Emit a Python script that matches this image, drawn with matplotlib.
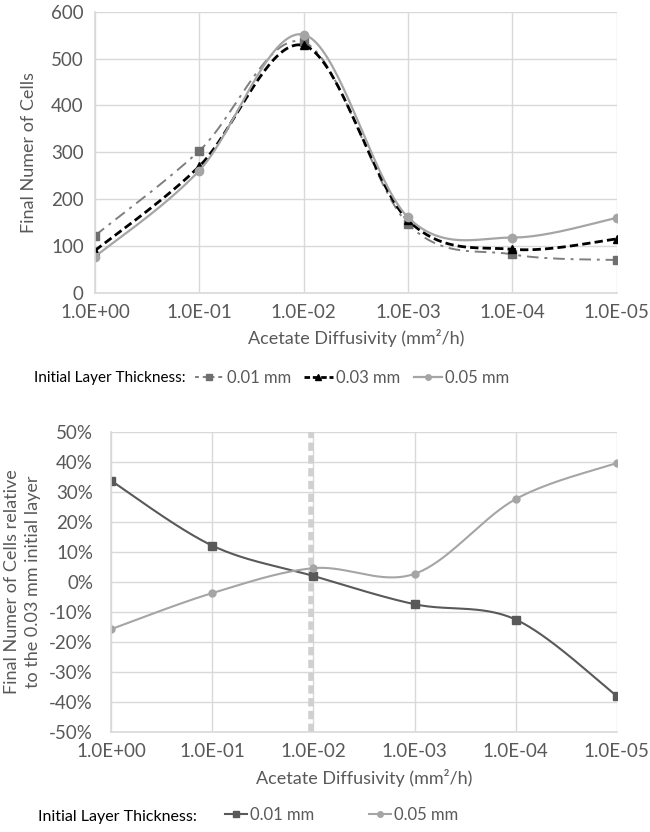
import numpy as np
import matplotlib
matplotlib.use("Agg")
import matplotlib.pyplot as plt
from matplotlib.lines import Line2D
from matplotlib.ticker import FuncFormatter

plt.rcParams['font.family'] = ['Lato', 'DejaVu Sans']

# data
diffusivity = ['1.0E+00', '1.0E-01', '1.0E-02', '1.0E-03', '1.0E-04', '1.0E-05']
cells_001 = [122, 303, 535, 147, 82, 70]
cells_003 = [90, 270, 528, 155, 93, 115]
cells_005 = [77, 261, 551, 161, 118, 160]
rel_001 = [33.7, 12.1, 2.0, -7.4, -12.5, -38.0]
rel_005 = [-15.7, -3.7, 4.6, 2.7, 27.6, 39.6]
x_marker = 1.98  # dashed reference line (1.0E-02)

GRID = '#d9d9d9'
TXT = '#595959'


def smooth(y, n=40):
    # excel-like smoothed line (cardinal bezier through the points)
    y = np.asarray(y, float)
    x = np.arange(len(y), dtype=float)
    P = np.column_stack([x, y])
    xs, ys = [], []
    t = np.linspace(0, 1, n)
    for i in range(len(P) - 1):
        p0 = P[i - 1] if i > 0 else P[i]
        p3 = P[i + 2] if i + 2 < len(P) else P[i + 1]
        c1 = P[i] + (P[i + 1] - p0) / 6
        c2 = P[i + 1] - (p3 - P[i]) / 6
        b = ((1 - t) ** 3)[:, None] * P[i] + (3 * (1 - t) ** 2 * t)[:, None] * c1 \
            + (3 * (1 - t) * t ** 2)[:, None] * c2 + (t ** 3)[:, None] * P[i + 1]
        xs.append(b[:, 0])
        ys.append(b[:, 1])
    return np.concatenate(xs), np.concatenate(ys)


def style(ax):
    ax.set_xlim(0, 5)
    ax.set_xticks(range(6))
    ax.set_xticklabels(diffusivity)
    ax.grid(True, color=GRID, lw=1)
    ax.set_axisbelow(True)
    for s in ['top', 'right']:
        ax.spines[s].set_visible(False)
    for s in ['left', 'bottom']:
        ax.spines[s].set_color(GRID)
        ax.spines[s].set_linewidth(1.2)
    ax.tick_params(length=0, labelsize=13.5, colors=TXT, pad=8)


fig = plt.figure(figsize=(6.5, 8.32), dpi=100)

# top chart
ax1 = fig.add_axes([0.146, 0.648, 0.803, 0.338])
style(ax1)
ax1.set_ylim(0, 600)
ax1.set_yticks(range(0, 601, 100))

sx, sy = smooth(cells_001)
ax1.plot(sx, sy, color='#7f7f7f', lw=1.4, ls=(0, (6, 3, 1.5, 3)))
ax1.plot(range(6), cells_001, ls='none', marker='s', ms=6, color='#6f6f6f')
sx, sy = smooth(cells_003)
ax1.plot(sx, sy, color='black', lw=2, ls=(0, (3, 1.5)))
ax1.plot(range(6), cells_003, ls='none', marker='^', ms=6, color='black')
sx, sy = smooth(cells_005)
ax1.plot(sx, sy, color='#a5a5a5', lw=1.6)
ax1.plot(range(6), cells_005, ls='none', marker='o', ms=6, color='#a5a5a5')

ax1.set_ylabel('Final Numer of Cells', fontsize=13, color=TXT, labelpad=10)
ax1.set_xlabel('Acetate Diffusivity (mm²/h)', fontsize=13, color=TXT, labelpad=6)

h1 = [Line2D([], [], color='#7f7f7f', lw=1.4, ls=(0, (2, 2)), marker='s', ms=5, mfc='#6f6f6f', mec='#6f6f6f'),
      Line2D([], [], color='black', lw=2, ls=(0, (2, 1)), marker='^', ms=5),
      Line2D([], [], color='#a5a5a5', lw=1.6, marker='o', ms=4)]
fig.text(0.052, 0.5457, 'Initial Layer Thickness:', fontsize=11, va='center')
fig.legend(h1, ['0.01 mm', '0.03 mm', '0.05 mm'], loc='center left', bbox_to_anchor=(0.3, 0.5457),
           ncol=3, frameon=False, fontsize=12, labelcolor=TXT, handlelength=1.7, handletextpad=0.2,
           columnspacing=0.8, borderpad=0, borderaxespad=0)

# bottom chart
ax2 = fig.add_axes([0.171, 0.12, 0.778, 0.361])
style(ax2)
ax2.tick_params(axis='y', pad=13)
ax2.set_ylim(-50, 50)
ax2.set_yticks(range(-50, 51, 10))
ax2.yaxis.set_major_formatter(FuncFormatter(lambda v, p: '%d%%' % round(v)))

ax2.axvline(x_marker, color='#d0d0d0', lw=4, ls=(0, (1.5, 0.8)), zorder=1)
sx, sy = smooth(rel_001)
ax2.plot(sx, sy, color='#595959', lw=1.5)
ax2.plot(range(6), rel_001, ls='none', marker='s', ms=5.5, color='#595959')
sx, sy = smooth(rel_005)
ax2.plot(sx, sy, color='#a5a5a5', lw=1.5)
ax2.plot(range(6), rel_005, ls='none', marker='o', ms=5, color='#a5a5a5')

ax2.set_ylabel('Final Numer of Cells relative\nto the 0.03 mm initial layer', fontsize=13, color=TXT,
               labelpad=6, linespacing=1.35)
ax2.set_xlabel('Acetate Diffusivity (mm²/h)', fontsize=13, color=TXT, labelpad=6)

h2 = [Line2D([], [], color='#595959', lw=1.5, marker='s', ms=5),
      Line2D([], [], color='#a5a5a5', lw=1.5, marker='o', ms=4)]
fig.text(0.058, 0.018, 'Initial Layer Thickness:', fontsize=11.5, va='center')
fig.legend(h2, ['0.01 mm', '0.05 mm'], loc='center left', bbox_to_anchor=(0.346, 0.021),
           ncol=2, frameon=False, fontsize=12, labelcolor=TXT, handlelength=1.3, handletextpad=0.2,
           columnspacing=3.3, borderpad=0, borderaxespad=0)

fig.savefig('out.png', dpi=100)
